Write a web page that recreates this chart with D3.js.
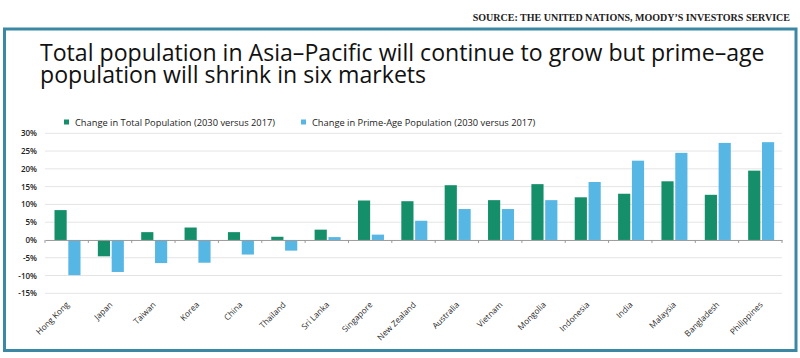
<!DOCTYPE html>
<html>
<head>
<meta charset="utf-8">
<script src="https://cdn.jsdelivr.net/npm/d3@7"></script>
<style>
  html, body { margin: 0; padding: 0; background: #fff; }
  svg { display: block; }
</style>
</head>
<body>
<svg id="chart" width="800" height="358"></svg>
<script>
const categories = ["Hong Kong","Japan","Taiwan","Korea","China","Thailand","Sri Lanka","Singapore","New Zealand","Australia","Vietnam","Mongolia","Indonesia","India","Malaysia","Bangladesh","Philippines"];
const totalChange = [8.4, -4.6, 2.2, 3.5, 2.2, 0.9, 2.9, 11.1, 10.9, 15.4, 11.2, 15.7, 12.0, 13.0, 16.5, 12.7, 19.5];
const primeAgeChange = [-9.9, -9.0, -6.5, -6.4, -4.1, -3.0, 0.8, 1.5, 5.4, 8.7, 8.7, 11.2, 16.3, 22.3, 24.5, 27.3, 27.5];
const seriesNames = ["Change in Total Population (2030 versus 2017)", "Change in Prime-Age Population (2030 versus 2017)"];
const yTicks = [-15, -10, -5, 0, 5, 10, 15, 20, 25, 30];
const titleLines = ["Total population in Asia–Pacific will continue to grow but prime–age", "population will shrink in six markets"];
const sourceText = "SOURCE: THE UNITED NATIONS, MOODY\u2019S INVESTORS SERVICE";

const colors = ["#148f69", "#56b6e4"];
const svg = d3.select("#chart");

// source
svg.append("text").attr("x", 790).attr("y", 21).attr("text-anchor", "end")
  .attr("font-family", "Liberation Serif, serif").attr("font-size", 10).attr("font-weight", 700)
  .attr("fill", "#222")
  .text(sourceText);

// frame
svg.append("rect").attr("x", 4.5).attr("y", 29).attr("width", 791.5).attr("height", 321.5)
  .attr("fill", "none").attr("stroke", "#3a88a4").attr("stroke-width", 3);

// title
const title = svg.append("text").attr("font-family", "Open Sans, sans-serif").attr("font-size", 23.1)
  .attr("fill", "#111");
titleLines.forEach((t, i) => {
  title.append("tspan").attr("x", 40).attr("y", 60.5 + i * 22.5).text(t);
});

const y = d3.scaleLinear().domain([-15, 30]).range([293.3, 133.3]);
const x = d3.scaleBand().domain(categories).range([45, 782]);
const x1 = d3.scaleBand().domain([0, 1]).range([9.5, 35.5]).paddingInner(0.12);

// grid
svg.append("g").selectAll("line").data(yTicks.filter(d => d !== 0)).join("line")
  .attr("x1", 45).attr("x2", 782).attr("y1", d => y(d)).attr("y2", d => y(d))
  .attr("stroke", "#e4e4e4").attr("stroke-width", 1);

// y axis labels
const yAxis = d3.axisLeft(y).tickValues(yTicks).tickFormat(d => d + "%").tickSize(0).tickPadding(0);
const gy = svg.append("g").attr("transform", "translate(37,0)").call(yAxis);
gy.select(".domain").remove();
gy.selectAll("text").attr("font-family", "Open Sans, sans-serif").attr("font-size", 8).attr("font-weight", 600).attr("fill", "#222");

// bars
const groups = svg.append("g").selectAll("g").data(categories).join("g")
  .attr("transform", d => `translate(${x(d)},0)`);
groups.selectAll("rect").data((d, i) => [totalChange[i], primeAgeChange[i]]).join("rect")
  .attr("x", (d, j) => x1(j)).attr("width", x1.bandwidth())
  .attr("y", d => y(Math.max(0, d))).attr("height", d => Math.abs(y(d) - y(0)))
  .attr("fill", (d, j) => colors[j]);

// x axis
const xAxis = d3.axisBottom(x).tickSize(0).tickFormat(d => d);
const gx = svg.append("g").attr("transform", `translate(0,${y(0)})`).call(xAxis);
gx.select(".domain").attr("stroke", "#9a9a9a");
gx.selectAll("text").attr("font-family", "Open Sans, sans-serif").attr("font-size", 8.3).attr("fill", "#2a2a2a")
  .attr("text-anchor", "end").attr("dy", 0)
  .attr("transform", `translate(3,${y(-15) - y(0) + 12}) rotate(-45)`)
  .attr("x", 0).attr("y", 0);
// boundary ticks
svg.append("g").selectAll("line").data(categories.concat([null])).join("line")
  .attr("x1", (d, i) => 45 + i * x.step()).attr("x2", (d, i) => 45 + i * x.step())
  .attr("y1", y(0)).attr("y2", y(0) + 3).attr("stroke", "#9a9a9a");

// legend
const legendX = [64, 301];
seriesNames.forEach((s, i) => {
  svg.append("rect").attr("x", legendX[i]).attr("y", 119.5).attr("width", 5).attr("height", 5).attr("fill", colors[i]);
  svg.append("text").attr("x", legendX[i] + 11).attr("y", 125.5)
    .attr("font-family", "Open Sans, sans-serif").attr("font-size", 9.3).attr("fill", "#222").text(s);
});
</script>
</body>
</html>
